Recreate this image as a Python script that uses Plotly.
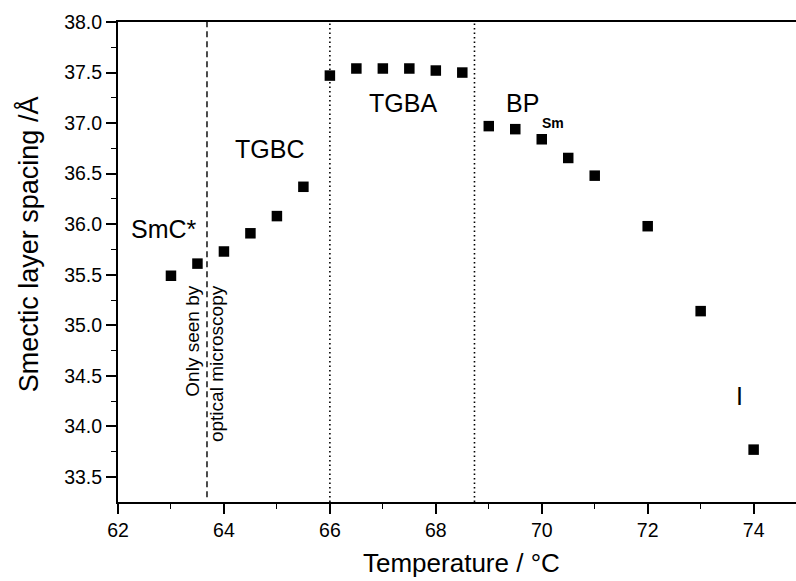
import plotly.graph_objects as go

# Data
temperature = [63.0, 63.5, 64.0, 64.5, 65.0, 65.5, 66.0, 66.5, 67.0, 67.5, 68.0, 68.5,
               69.0, 69.5, 70.0, 70.5, 71.0, 72.0, 73.0, 74.0]
spacing = [35.49, 35.61, 35.73, 35.91, 36.08, 36.37, 37.47, 37.54, 37.54, 37.54, 37.52, 37.50,
           36.97, 36.94, 36.84, 36.655, 36.48, 35.98, 35.14, 33.77]

x_ticks = [62, 64, 66, 68, 70, 72, 74]
y_ticks = [33.5, 34.0, 34.5, 35.0, 35.5, 36.0, 36.5, 37.0, 37.5, 38.0]

transition_dashed = 63.68
transitions_dotted = [66.0, 68.73]

phase_labels = ["SmC*", "TGBC", "TGBA", "I"]
phase_x = [62.874, 64.856, 67.376, 73.73]
phase_y = [35.95, 36.74, 37.196, 34.30]

FONT = "Liberation Sans, Arial, Helvetica, sans-serif"
X_RANGE = [62, 74.8]
Y_RANGE = [33.252, 38.0]

fig = go.Figure()
fig.add_trace(go.Scatter(
    x=temperature, y=spacing, mode="markers",
    marker=dict(symbol="square", size=10.5, color="black"),
    showlegend=False, hoverinfo="x+y",
))

# vertical transition lines
fig.add_shape(type="line", xref="x", yref="y", x0=transition_dashed, x1=transition_dashed,
              y0=33.3, y1=Y_RANGE[1], line=dict(color="black", width=1.4, dash="6px,4px"))
for xv in transitions_dotted:
    fig.add_shape(type="line", xref="x", yref="y", x0=xv, x1=xv,
                  y0=Y_RANGE[0], y1=Y_RANGE[1], line=dict(color="black", width=1.6, dash="1.5px,3px"))

annotations = []
for t, xv, yv in zip(phase_labels, phase_x, phase_y):
    annotations.append(dict(x=xv, y=yv, xref="x", yref="y", text=t, showarrow=False,
                            font=dict(family=FONT, size=25, color="black"),
                            xanchor="center", yanchor="middle"))
annotations.append(dict(x=69.642, y=37.20, xref="x", yref="y", text="BP", showarrow=False,
                        font=dict(family=FONT, size=25, color="black"),
                        xanchor="center", yanchor="middle"))
annotations.append(dict(x=70.208, y=36.998, xref="x", yref="y", text="<b>Sm</b>", showarrow=False,
                        font=dict(family=FONT, size=14, color="black"),
                        xanchor="center", yanchor="middle"))
annotations.append(dict(x=63.63, y=34.62, xref="x", yref="y",
                        text="Only seen by<br>optical microscopy", showarrow=False,
                        textangle=-90, align="right",
                        font=dict(family=FONT, size=19, color="black"),
                        xanchor="center", yanchor="middle"))
# axis titles
annotations.append(dict(x=0.506, y=-0.127, xref="paper", yref="paper",
                        text="Temperature / °C", showarrow=False,
                        font=dict(family=FONT, size=26, color="black"),
                        xanchor="center", yanchor="middle"))
annotations.append(dict(x=-0.132, y=0.536, xref="paper", yref="paper",
                        text="Smectic layer spacing /Å", showarrow=False, textangle=-90,
                        font=dict(family=FONT, size=27, color="black"),
                        xanchor="center", yanchor="middle"))

fig.update_layout(
    width=796, height=581,
    margin=dict(l=118, r=0, t=22, b=79),
    paper_bgcolor="white", plot_bgcolor="white",
    font=dict(family=FONT, color="black"),
    annotations=annotations,
    xaxis=dict(range=X_RANGE, tickvals=x_ticks, ticktext=[str(v) for v in x_ticks],
               showgrid=False, zeroline=False, showline=True, linecolor="black", linewidth=2,
               mirror=True, ticks="outside", ticklen=10, tickwidth=1.6, tickcolor="black",
               tickfont=dict(family=FONT, size=19.5, color="black"),
               minor=dict(dtick=1, ticks="outside", ticklen=5, tickwidth=1.4, tickcolor="black")),
    yaxis=dict(range=Y_RANGE, tickvals=y_ticks, ticktext=["%.1f" % v for v in y_ticks],
               showgrid=False, zeroline=False, showline=True, linecolor="black", linewidth=2,
               ticks="outside", ticklen=10, tickwidth=1.6, tickcolor="black",
               tickfont=dict(family=FONT, size=19.5, color="black"),
               minor=dict(tick0=33.25, dtick=0.25, ticks="outside", ticklen=5, tickwidth=1.4,
                          tickcolor="black")),
)

fig.write_html("out.html")
